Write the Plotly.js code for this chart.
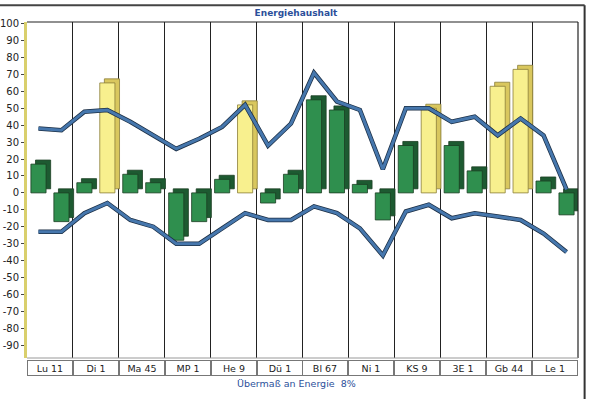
<!DOCTYPE html>
<html>
<head>
<meta charset="utf-8">
<script src="https://cdn.plot.ly/plotly-3.0.1.min.js"></script>
<style>
html,body{margin:0;padding:0;background:#fff;}
#chart{width:592px;height:399px;}
</style>
</head>
<body>
<div id="chart"></div>
<script>
const categories = ['Lu 11','Di 1','Ma 45','MP 1','He 9','Dü 1','Bl 67','Ni 1','KS 9','3E 1','Gb 44','Le 1'];
const barLeft  = [17, 6, 11, -28, 8, -6, 55, 5, 28, 28, 63, 7];
const barRight = [-17, 65, 6, -17, 52, 11, 49, -16, 50, 13, 73, -13];
const kindLeft  = ['g','g','g','g','g','g','g','g','g','g','y','g'];
const kindRight = ['g','y','g','g','y','g','g','g','y','g','y','g'];
const upperLeft  = [38, 48, 42, 26, 39, 28, 71, 49, 50, 42, 34, 34];
const upperRight = [37, 49, 34, 32, 52, 41, 54, 14, 50, 45, 44, 2];
const lowerLeft  = [-23, -12, -16, -30, -21, -16, -8, -21, -11, -15, -14, -24];
const lowerRight = [-23, -6, -20, -30, -12, -16, -12, -37, -7, -12, -16, -35];
const yTicks = [100,90,80,70,60,50,40,30,20,10,0,-10,-20,-30,-40,-50,-60,-70,-80,-90];
const titleText = 'Energiehaushalt';
const footerText = 'Übermaß an Energie  8%';

const FRONT = {g:'#2f8f4e', y:'#f8f08e'};
const BACK  = {g:'#1d5a31', y:'#d9c75e'};
const EDGE  = {g:'#1a3d22', y:'#8a7d3a'};

const xs = [], ys = [], kinds = [], ups = [], lows = [];
categories.forEach((c, i) => {
  xs.push(i - 0.25, i + 0.25);
  ys.push(barLeft[i], barRight[i]);
  kinds.push(kindLeft[i], kindRight[i]);
  ups.push(upperLeft[i], upperRight[i]);
  lows.push(lowerLeft[i], lowerRight[i]);
});

const depthX = 0.1, depthY = 2.4;
const traces = [
  { type:'bar', x: xs.map(v => v + depthX), y: ys, base: ys.map(() => depthY),
    width: 0.33, marker:{color: kinds.map(k => BACK[k]), line:{color: kinds.map(k => EDGE[k]), width:0.8}},
    hoverinfo:'skip', showlegend:false },
  { type:'bar', x: xs, y: ys, base: ys.map(() => 0),
    width: 0.33, marker:{color: kinds.map(k => FRONT[k]), line:{color: kinds.map(k => EDGE[k]), width:0.8}},
    showlegend:false },
  { type:'scatter', mode:'lines', x: xs, y: ups, line:{color:'#1c2f45', width:4.5}, showlegend:false, hoverinfo:'skip' },
  { type:'scatter', mode:'lines', x: xs, y: ups, line:{color:'#4677ad', width:3}, showlegend:false },
  { type:'scatter', mode:'lines', x: xs, y: lows, line:{color:'#1c2f45', width:4.5}, showlegend:false, hoverinfo:'skip' },
  { type:'scatter', mode:'lines', x: xs, y: lows, line:{color:'#4677ad', width:3}, showlegend:false }
];

const boundaries = categories.slice(0, -1).map((c, i) => i + 0.5);

const annotations = categories.map((c, i) => ({
  text: c, x: i, xref:'x', y: 0, yref:'paper', yanchor:'top', yshift: -2,
  showarrow:false, width: 42, height: 12, bgcolor:'#fff', bordercolor:'#777', borderwidth:1,
  font:{family:'DejaVu Sans, Verdana, sans-serif', size:9.5, color:'#222'}
}));
annotations.push({
  text: footerText, x: 0.49, xref:'paper', y: -0.075, yref:'paper', yanchor:'middle',
  showarrow:false, font:{family:'DejaVu Sans, Verdana, sans-serif', size:9.5, color:'#2b4f9a'}
});

const layout = {
  width: 592, height: 399,
  margin:{l:27, r:14, t:22, b:41},
  paper_bgcolor:'#fff', plot_bgcolor:'#fff',
  barmode:'overlay',
  title:{text:'<b>' + titleText + '</b>', x:0.5, xref:'container', y:0.968, yref:'container', yanchor:'middle',
         font:{family:'DejaVu Sans, Verdana, sans-serif', size:9, color:'#2b4f9a'}},
  xaxis:{range:[-0.5, 11.5], tickvals: boundaries, showticklabels:false, ticks:'',
         showgrid:true, gridcolor:'#222', gridwidth:1, zeroline:false, showline:false, fixedrange:true},
  yaxis:{range:[-97.6, 101], tickvals: yTicks, ticktext: yTicks.map(String), ticks:'outside', ticklen:3,
         tickcolor:'#444', showgrid:false, zeroline:false, showline:true, linecolor:'#d9cf6c', linewidth:3,
         tickfont:{family:'DejaVu Sans, Verdana, sans-serif', size:10, color:'#222'}, fixedrange:true},
  annotations: annotations,
  shapes:[
    {type:'line', xref:'paper', yref:'paper', x0:0, x1:1, y0:1, y1:1, line:{color:'#222', width:1.2}},
    {type:'line', xref:'paper', yref:'paper', x0:1, x1:1, y0:0, y1:1, line:{color:'#222', width:1.2}},
    {type:'line', xref:'paper', yref:'paper', x0:0, x1:1, y0:0, y1:0, line:{color:'#999', width:1}},
    {type:'line', xref:'paper', yref:'paper', x0:-0.05, x1:1.012, y0:1.05, y1:1.05, line:{color:'#444', width:2}},
    {type:'line', xref:'paper', yref:'paper', x0:1.012, x1:1.012, y0:1.05, y1:-0.13, line:{color:'#333', width:2}}
  ]
};

Plotly.newPlot('chart', traces, layout, {displayModeBar:false, staticPlot:true});
</script>
</body>
</html>
